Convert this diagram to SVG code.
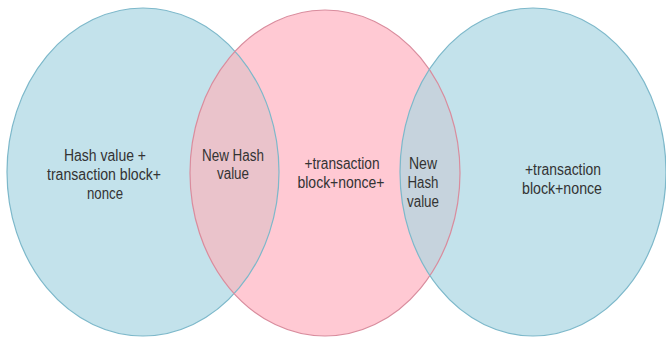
<svg xmlns="http://www.w3.org/2000/svg" width="666" height="340" viewBox="0 0 666 340">
<style>
.blue{fill:#c3e2eb}
.pink{fill:#ffc9d3}
.bs{fill:none;stroke:#7db8ca;stroke-width:1.2}
.ps{fill:none;stroke:#d98c9d;stroke-width:1.2}
text{font-family:"Liberation Sans Narrow","Liberation Sans",Arial,sans-serif;font-size:16px;fill:#333;text-anchor:middle}
</style>
<defs>
<clipPath id="clipL"><ellipse cx="143" cy="172" rx="136" ry="164"/></clipPath>
<clipPath id="clipR"><ellipse cx="533" cy="172" rx="133" ry="164"/></clipPath>
</defs>
<rect width="666" height="340" fill="#fff"/>
<g id="circle-left"><ellipse class="blue" cx="143" cy="172" rx="136" ry="164"/></g>
<g id="circle-middle"><ellipse class="pink" cx="325" cy="173" rx="135" ry="163"/></g>
<g id="circle-right"><ellipse class="blue" cx="533" cy="172" rx="133" ry="164"/></g>
<g id="overlap-left"><ellipse cx="325" cy="173" rx="135" ry="163" fill="#eac3cb" clip-path="url(#clipL)"/></g>
<g id="overlap-right"><ellipse cx="325" cy="173" rx="135" ry="163" fill="#c6d3dd" clip-path="url(#clipR)"/></g>
<g id="outlines">
<ellipse class="bs" cx="143" cy="172" rx="136" ry="164"/>
<ellipse class="ps" cx="325" cy="173" rx="135" ry="163"/>
<ellipse class="bs" cx="533" cy="172" rx="133" ry="164"/>
</g>
<g id="labels">
<text x="105" y="161" textLength="82" lengthAdjust="spacingAndGlyphs">Hash value +</text>
<text x="104" y="180" textLength="114" lengthAdjust="spacingAndGlyphs">transaction block+</text>
<text x="105" y="199" textLength="36" lengthAdjust="spacingAndGlyphs">nonce</text>
<text x="233" y="161" textLength="62" lengthAdjust="spacingAndGlyphs">New Hash</text>
<text x="233" y="179" textLength="32" lengthAdjust="spacingAndGlyphs">value</text>
<text x="342" y="169" textLength="75" lengthAdjust="spacingAndGlyphs">+transaction</text>
<text x="341" y="188" textLength="87" lengthAdjust="spacingAndGlyphs">block+nonce+</text>
<text x="423" y="169" textLength="28" lengthAdjust="spacingAndGlyphs">New</text>
<text x="423" y="188" textLength="31" lengthAdjust="spacingAndGlyphs">Hash</text>
<text x="423" y="207" textLength="32" lengthAdjust="spacingAndGlyphs">value</text>
<text x="563" y="175" textLength="76" lengthAdjust="spacingAndGlyphs">+transaction</text>
<text x="562" y="194" textLength="80" lengthAdjust="spacingAndGlyphs">block+nonce</text>
</g>
</svg>
